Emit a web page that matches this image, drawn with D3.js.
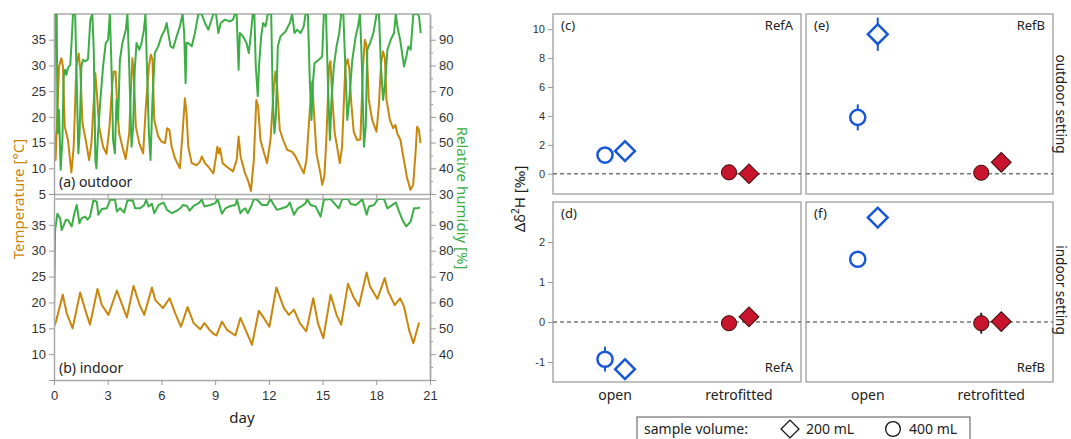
<!DOCTYPE html>
<html>
<head>
<meta charset="utf-8">
<script src="https://cdn.jsdelivr.net/npm/d3@7"></script>
<style>
  body { margin: 0; background: #fff; }
  svg { font-family: "Segoe UI", "Noto Sans", "Open Sans", sans-serif; }
  .tick text { fill: #333; }
</style>
</head>
<body>
<svg id="chart" width="1071" height="439"></svg>
<script>
// ---- data: time series as [day, value] vertices ----
var dayTicks = [0, 3, 6, 9, 12, 15, 18, 21];

var outdoorTemp = [[0,17.8],[0.09,11.6],[0.28,29.8],[0.41,31.4],[0.5,29.8],[0.6,18.1],[0.78,15.5],[0.97,9.2],[1.1,14.2],[1.25,29.8],[1.38,32.3],[1.47,29.2],[1.59,18.8],[1.77,15.5],[1.96,11.6],[2.09,14.9],[2.31,28.5],[2.42,23.3],[2.52,18.1],[2.74,14.2],[2.93,12.8],[3.1,18.1],[3.26,26.6],[3.33,28.8],[3.44,28.8],[3.53,22],[3.64,16.8],[3.82,14.2],[4.0,11.8],[4.2,16.8],[4.33,27.9],[4.38,31.4],[4.46,27.9],[4.57,18.1],[4.76,14.9],[4.98,12.9],[5.13,22],[5.3,29.8],[5.41,32.1],[5.5,31.1],[5.6,19.4],[5.82,16.2],[6.0,15.2],[6.2,14.9],[6.32,17.8],[6.44,17.5],[6.57,14.2],[6.75,12],[7.03,10],[7.18,16.8],[7.31,23.6],[7.4,20.7],[7.5,14.2],[7.69,11],[7.97,10.6],[8.15,11.3],[8.26,12.3],[8.43,11],[8.62,10.3],[8.9,9],[9.05,12.3],[9.12,14.2],[9.2,12.9],[9.27,13.9],[9.42,11],[9.65,10.3],[10.0,9.4],[10.2,11.6],[10.31,16.2],[10.42,12.3],[10.67,9],[10.85,7.5],[11.0,5.6],[11.16,11.6],[11.3,23.3],[11.4,22],[11.53,15.5],[11.68,13.6],[11.9,11],[12.09,15.5],[12.28,25.9],[12.37,28.8],[12.46,25.9],[12.61,17.5],[12.8,15.5],[13.02,13.6],[13.3,13.2],[13.49,12.3],[13.67,11],[13.95,9],[14.1,11.6],[14.29,21.4],[14.42,26.9],[14.51,21.4],[14.66,12.9],[14.88,9],[14.98,6.8],[15.1,8.4],[15.21,15.5],[15.36,29.8],[15.44,30.8],[15.55,23.3],[15.68,16.8],[15.81,14.2],[15.96,11],[16.09,14.2],[16.27,29.8],[16.4,31.2],[16.5,29.2],[16.59,23.3],[16.74,17.1],[16.93,15.5],[17.11,15.6],[17.26,29.8],[17.36,35],[17.45,34],[17.58,23.3],[17.77,19.4],[18.01,17.1],[18.14,22],[18.27,30.5],[18.38,32.7],[18.48,31.4],[18.57,23.3],[18.76,19.4],[18.94,17.8],[19.07,18.4],[19.17,16.8],[19.35,15.5],[19.54,11.6],[19.72,8.1],[19.91,5.8],[20.06,6.8],[20.19,12.9],[20.28,18.1],[20.38,17.5],[20.47,14.9]];

var outdoorRH = [[0,47],[0.07,100],[0.15,100],[0.2,53.6],[0.28,62.7],[0.37,39.4],[0.47,51],[0.54,75.7],[0.62,78.3],[0.69,76.4],[0.78,79],[0.91,80.3],[1.01,92.6],[1.06,100],[1.18,100],[1.25,79.6],[1.36,45.8],[1.43,53.6],[1.53,79.6],[1.62,82.2],[1.77,81.6],[1.9,82.5],[2.03,97.8],[2.14,100],[2.22,86.1],[2.31,43.2],[2.37,40],[2.46,53.6],[2.59,66.6],[2.74,79.6],[2.89,88.7],[3.02,90],[3.12,100],[3.21,79.6],[3.3,51],[3.4,45.8],[3.49,66.6],[3.58,58.8],[3.68,82.2],[3.82,88.7],[4.01,93.9],[4.1,100],[4.2,79.6],[4.33,48.4],[4.42,56.2],[4.51,78.3],[4.61,88.7],[4.76,86.1],[4.89,88.7],[5.02,93.9],[5.11,100],[5.19,79.6],[5.3,53.6],[5.39,43.2],[5.5,66.6],[5.63,84.8],[5.82,87.4],[6.0,91.3],[6.19,93.9],[6.29,96.5],[6.38,92.6],[6.51,87.4],[6.66,86.8],[6.85,91.3],[7.03,95.2],[7.18,100],[7.27,92.6],[7.35,73.1],[7.4,88.7],[7.5,88.7],[7.69,87.4],[7.87,92.6],[8.06,100],[8.24,100],[8.43,96.5],[8.62,93.9],[8.9,100],[9.05,100],[9.18,92.6],[9.31,96.5],[9.55,97.8],[9.83,97.1],[10.0,97.8],[10.1,100],[10.2,100],[10.31,78.3],[10.38,92.6],[10.56,91.3],[10.75,88.7],[10.88,84.8],[11.0,92.6],[11.1,100],[11.19,100],[11.27,79.6],[11.38,68],[11.45,79.6],[11.57,91.3],[11.68,96.5],[11.81,95.2],[11.94,100],[12.13,100],[12.22,66.6],[12.31,53.6],[12.39,60.1],[12.5,87.4],[12.65,91.3],[12.93,93.2],[13.17,96.5],[13.3,100],[13.43,92.6],[13.58,93.9],[13.77,92.6],[13.95,95.2],[14.05,100],[14.18,100],[14.29,73.1],[14.38,58.8],[14.46,73.1],[14.55,80.9],[14.79,82.2],[14.98,83.5],[15.07,100],[15.19,100],[15.3,73.1],[15.41,51],[15.5,66.6],[15.63,79.6],[15.78,87.4],[15.93,92.6],[16.04,100],[16.16,100],[16.27,79.6],[16.38,58.8],[16.49,66.6],[16.66,82.2],[16.85,91.3],[16.98,95.2],[17.09,100],[17.2,79.6],[17.31,48.4],[17.41,56.2],[17.5,86.1],[17.65,88.7],[17.84,92.6],[18.02,100],[18.15,100],[18.26,79.6],[18.38,66.6],[18.49,73.1],[18.62,86.1],[18.81,90],[18.99,92.6],[19.09,100],[19.18,95.2],[19.33,90],[19.55,79.6],[19.68,83.5],[19.79,87.4],[19.92,86.1],[20.07,100],[20.3,100],[20.39,99],[20.48,92.6]];

var indoorTemp = [[0,15.3],[0.11,16.3],[0.49,21.5],[0.71,17.9],[1.04,15],[1.46,21.9],[1.74,18.6],[2.01,15.7],[2.43,22.6],[2.67,19.5],[3.04,17.6],[3.51,22.3],[4.07,17.1],[4.44,23.2],[4.78,19.5],[5.04,17.6],[5.47,22.9],[5.65,20.5],[6.08,18.9],[6.46,20.8],[6.77,17.9],[7.09,15.3],[7.46,19.1],[7.8,16],[8.17,14.8],[8.4,16],[8.69,14.7],[8.92,13.9],[9.07,13.6],[9.38,16.3],[9.66,14.7],[10.13,13.6],[10.41,17],[11.06,11.8],[11.44,18.4],[11.72,17],[12.03,15.3],[12.42,22.9],[12.84,18.9],[13.12,17.6],[13.4,18.6],[13.73,16],[14.09,14.4],[14.48,20.8],[14.74,16],[15.04,13.1],[15.45,21.5],[15.78,17.6],[16.04,15.7],[16.42,23.6],[16.72,21.1],[17.03,19.3],[17.46,25.8],[17.65,23.1],[18.06,20.7],[18.47,24.7],[18.66,22.1],[19.03,19.5],[19.33,20.8],[19.55,19.2],[19.83,14.7],[20.07,12.1],[20.39,16.1]];

var indoorRH = [[0,52],[0.06,88],[0.19,94.3],[0.34,92.6],[0.43,88],[0.52,89.4],[0.67,92],[0.8,91.7],[0.99,89.4],[1.12,93.9],[1.27,97.7],[1.42,90.6],[1.55,92.6],[1.74,93.2],[1.87,92],[2.01,93.2],[2.2,99.4],[2.39,99],[2.48,93.9],[2.67,96.1],[2.95,96.4],[3.13,99.7],[3.41,99.7],[3.51,95.2],[3.69,96.4],[3.92,94.8],[4.1,99.4],[4.4,99.4],[4.53,96.4],[4.81,96.4],[5.04,97.7],[5.15,99.7],[5.28,97.1],[5.47,98.1],[5.6,94.5],[5.84,97.7],[6.12,98.6],[6.31,95.8],[6.59,94.5],[6.87,95.5],[7.05,96.4],[7.2,97.7],[7.43,97.3],[7.57,95.5],[7.8,97.3],[8.08,98.4],[8.26,99.7],[8.4,97.1],[8.73,97.7],[9.01,98.4],[9.14,100],[9.29,96.4],[9.38,94.3],[9.57,96.4],[9.85,97.3],[10.13,97.7],[10.22,99.7],[10.41,94.5],[10.56,95.8],[10.69,96.4],[10.82,94.5],[11.01,97.1],[11.16,100],[11.34,99.7],[11.62,97.7],[11.9,97.7],[12.09,100],[12.28,97.7],[12.46,95.8],[12.74,96.4],[13.02,97.1],[13.17,98.6],[13.4,93.9],[13.62,96.4],[13.86,97.3],[14.05,98.4],[14.14,100],[14.33,97.7],[14.61,97.1],[14.89,93.2],[15.07,99.7],[15.45,100],[15.73,97.7],[15.91,96.4],[16.1,100],[16.42,100],[16.57,98.1],[16.85,97.7],[17.03,98.6],[17.22,100],[17.46,93.9],[17.59,97.1],[17.87,97.7],[18.1,100],[18.43,100],[18.62,96.4],[18.9,97.7],[19.09,98.6],[19.27,95.2],[19.46,91.9],[19.68,89.4],[19.92,91.3],[20.11,96.4],[20.3,96.4],[20.43,96.8]];

// ---- data: isotope offsets, rows of [treatment, sample volume mL, mean, error] ----
var treatments = ["open", "retrofitted"];
var volumes = [200, 400];
var refAOutdoor = [["open",200,1.57,0.1],["open",400,1.29,0.1],["retrofitted",200,0.0,0.1],["retrofitted",400,0.1,0.1]];
var refBOutdoor = [["open",200,9.65,1.15],["open",400,3.9,0.9],["retrofitted",200,0.79,0.1],["retrofitted",400,0.07,0.1]];
var refAIndoor  = [["open",200,-1.18,0.05],["open",400,-0.93,0.31],["retrofitted",200,0.13,0.05],["retrofitted",400,-0.03,0.05]];
var refBIndoor  = [["open",200,2.61,0.05],["open",400,1.57,0.05],["retrofitted",200,0.01,0.12],["retrofitted",400,-0.03,0.26]];

var outdoorTicks = [0, 2, 4, 6, 8, 10];
var indoorTicks = [-1, 0, 1, 2];

var tempColor = "#c8860b", rhColor = "#3cae45";
var openColor = "#1857d6", retroColor = "#c8142c";
var frameColor = "#aaaaaa";

var svg = d3.select("#chart");

// ================= left: time series =================
var x = d3.scaleLinear().domain([0, 21]).range([54, 430]);

function timePanel(top, bottom, temp, rh, label, id, leftTicks, rightTicks, showDays) {
    var yT = d3.scaleLinear().domain([5, 40]).range([bottom, top]);
    var yH = d3.scaleLinear().domain([30, 100]).range([bottom, top]);
    var g = svg.append("g");

    g.append("clipPath").attr("id", id)
        .append("rect").attr("x", x(0)).attr("y", top).attr("width", x(21) - x(0)).attr("height", bottom - top);

    // top frame line
    g.append("line").attr("x1", x(0)).attr("x2", x(21)).attr("y1", top).attr("y2", top)
        .attr("stroke", frameColor).attr("stroke-width", 1.5);

    var line = d3.line().x(d => x(d[0]));
    g.append("path").datum(temp)
        .attr("clip-path", "url(#" + id + ")")
        .attr("fill", "none").attr("stroke", tempColor).attr("stroke-width", 2)
        .attr("stroke-linejoin", "round")
        .attr("d", line.y(d => yT(d[1])));
    g.append("path").datum(rh)
        .attr("clip-path", "url(#" + id + ")")
        .attr("fill", "none").attr("stroke", rhColor).attr("stroke-width", 2)
        .attr("stroke-linejoin", "round")
        .attr("d", line.y(d => yH(d[1])));

    // left axis (temperature)
    g.append("g").attr("transform", "translate(" + x(0) + ",0)")
        .call(d3.axisLeft(yT).tickValues(d3.range(5, 40, 5)).tickSize(5).tickSizeOuter(0)
            .tickFormat(d => leftTicks.includes(d) ? d : ""))
        .call(styleAxis);

    // right axis (humidity), minor ticks every 5
    g.append("g").attr("transform", "translate(" + x(21) + ",0)")
        .call(d3.axisRight(yH).tickValues(d3.range(35, 100, 10)).tickSize(3).tickSizeOuter(0).tickFormat(""))
        .call(styleAxis);
    g.append("g").attr("transform", "translate(" + x(21) + ",0)")
        .call(d3.axisRight(yH).tickValues(d3.range(30, 100, 10)).tickSize(6).tickSizeOuter(0)
            .tickFormat(d => rightTicks.includes(d) ? d : ""))
        .call(styleAxis);

    // bottom axis
    var ax = g.append("g").attr("transform", "translate(0," + bottom + ")")
        .call(d3.axisBottom(x).tickValues(dayTicks).tickSize(5).tickSizeOuter(0)
            .tickFormat(d => showDays ? d : ""))
        .call(styleAxis);
    ax.selectAll("text").attr("dy", "0.9em");

    g.append("text").attr("x", 59).attr("y", bottom - 7)
        .attr("font-size", 14).attr("fill", "#222").text(label);
}

function styleAxis(g) {
    g.select(".domain").attr("stroke", frameColor).attr("stroke-width", 1.5);
    g.selectAll(".tick line").attr("stroke", "#999");
    g.selectAll(".tick text").attr("font-size", 13).attr("font-family", null);
}

timePanel(14, 194, outdoorTemp, outdoorRH, "(a) outdoor", "clipA",
    [5, 10, 15, 20, 25, 30, 35], [30, 40, 50, 60, 70, 80, 90], false);
timePanel(199, 380, indoorTemp, indoorRH, "(b) indoor", "clipB",
    [10, 15, 20, 25, 30, 35], [40, 50, 60, 70, 80, 90], true);

svg.append("text").attr("transform", "translate(24,199) rotate(-90)")
    .attr("text-anchor", "middle").attr("font-size", 15).attr("fill", tempColor)
    .text("Temperature [°C]");
svg.append("text").attr("transform", "translate(457,198) rotate(90)")
    .attr("text-anchor", "middle").attr("font-size", 15).attr("fill", rhColor)
    .text("Relative humidiy [%]");
svg.append("text").attr("x", 242).attr("y", 423)
    .attr("text-anchor", "middle").attr("font-size", 15).attr("fill", "#222").text("day");

// ================= right: Δδ2H panels =================
var yOut = d3.scaleLinear().domain([-1.4, 11.05]).range([194, 14]);
var yIn = d3.scaleLinear().domain([-1.5, 3.0]).range([382, 202]);
var dodge = d3.scalePoint().domain([400, 200]).range([-10, 10]);

var diamond = d3.symbol().type(d3.symbolSquare).size(196);
var circle = d3.symbol().type(d3.symbolCircle).size(180);

function dotPanel(left, right, y, rows, tag, ref, refBottom, ticks) {
    var cx = d3.scaleBand().domain(treatments).range([left, right]);
    var g = svg.append("g");

    g.append("rect").attr("x", left).attr("y", y.range()[1])
        .attr("width", right - left).attr("height", y.range()[0] - y.range()[1])
        .attr("fill", "none").attr("stroke", frameColor).attr("stroke-width", 1.5);

    g.append("line").attr("x1", left).attr("x2", right).attr("y1", y(0)).attr("y2", y(0))
        .attr("stroke", "#777").attr("stroke-width", 1.5).attr("stroke-dasharray", "4,3");

    if (ticks) {
        g.append("g").attr("transform", "translate(" + left + ",0)")
            .call(d3.axisLeft(y).tickValues(ticks).tickSize(5).tickSizeOuter(0).tickFormat(d => d))
            .call(a => a.select(".domain").remove())
            .call(a => a.selectAll(".tick line").attr("stroke", "#999"))
            .call(a => a.selectAll(".tick text").attr("font-size", 11).attr("font-family", null));
    }

    var px = d => cx(d[0]) + cx.bandwidth() / 2 + dodge(d[1]);
    var col = d => d[0] === "open" ? openColor : "#222";

    g.selectAll(".err").data(rows).join("line")
        .attr("x1", px).attr("x2", px)
        .attr("y1", d => y(d[2] - d[3])).attr("y2", d => y(d[2] + d[3]))
        .attr("stroke", col).attr("stroke-width", 2);

    g.selectAll(".mark").data(rows).join("path")
        .attr("transform", d => "translate(" + px(d) + "," + y(d[2]) + ")" + (d[1] === 200 ? " rotate(45)" : ""))
        .attr("d", d => d[1] === 200 ? diamond() : circle())
        .attr("fill", d => d[0] === "open" ? "#fff" : retroColor)
        .attr("stroke", d => d[0] === "open" ? openColor : "#3a0a0a")
        .attr("stroke-width", d => d[0] === "open" ? 2.5 : 1);

    var top = y.range()[1], bot = y.range()[0];
    g.append("text").attr("x", left + 8).attr("y", top + 16)
        .attr("font-size", 13).attr("fill", "#222").text(tag);
    g.append("text").attr("x", right - 8).attr("y", refBottom ? bot - 10 : top + 16)
        .attr("text-anchor", "end").attr("font-size", 13).attr("fill", "#222").text(ref);
    return cx;
}

dotPanel(553, 801, yOut, refAOutdoor, "(c)", "RefA", false, outdoorTicks);
dotPanel(806, 1053, yOut, refBOutdoor, "(e)", "RefB", false, null);
var cxD = dotPanel(553, 801, yIn, refAIndoor, "(d)", "RefA", true, indoorTicks);
var cxF = dotPanel(806, 1053, yIn, refBIndoor, "(f)", "RefB", true, null);

// category labels under the indoor panels
[cxD, cxF].forEach(function (cx) {
    svg.append("g").selectAll("text").data(treatments).join("text")
        .attr("x", d => cx(d) + cx.bandwidth() / 2).attr("y", 400)
        .attr("text-anchor", "middle").attr("font-size", 14).attr("fill", "#222")
        .text(d => d);
});

var yl = svg.append("text").attr("transform", "translate(525,199) rotate(-90)")
    .attr("text-anchor", "middle").attr("font-size", 15).attr("fill", "#222");
yl.append("tspan").text("Δδ");
yl.append("tspan").attr("font-size", 10).attr("dy", -6).text("2");
yl.append("tspan").attr("dy", 6).text("H [‰]");

svg.append("text").attr("transform", "translate(1056,104) rotate(90)")
    .attr("text-anchor", "middle").attr("font-size", 13.5).attr("fill", "#222").text("outdoor setting");
svg.append("text").attr("transform", "translate(1056,290) rotate(90)")
    .attr("text-anchor", "middle").attr("font-size", 13.5).attr("fill", "#222").text("indoor setting");

// legend
var lg = svg.append("g");
lg.append("rect").attr("x", 637).attr("y", 417).attr("width", 333).attr("height", 30)
    .attr("fill", "#fff").attr("stroke", "#555").attr("stroke-width", 1);
lg.append("text").attr("x", 644).attr("y", 434).attr("font-size", 14).attr("fill", "#222").text("sample volume:");
var legendX = d3.scalePoint().domain(volumes).range([790, 893]);
lg.selectAll("path").data(volumes).join("path")
    .attr("transform", d => "translate(" + legendX(d) + ",429)" + (d === 200 ? " rotate(45)" : ""))
    .attr("d", d => d === 200 ? d3.symbol().type(d3.symbolSquare).size(160)() : d3.symbol().type(d3.symbolCircle).size(170)())
    .attr("fill", "none").attr("stroke", "#111").attr("stroke-width", 1.3);
lg.selectAll(".lt").data(volumes).join("text")
    .attr("x", d => legendX(d) + 16).attr("y", 434)
    .attr("font-size", 14).attr("fill", "#222").text(d => d + " mL");
</script>
</body>
</html>
